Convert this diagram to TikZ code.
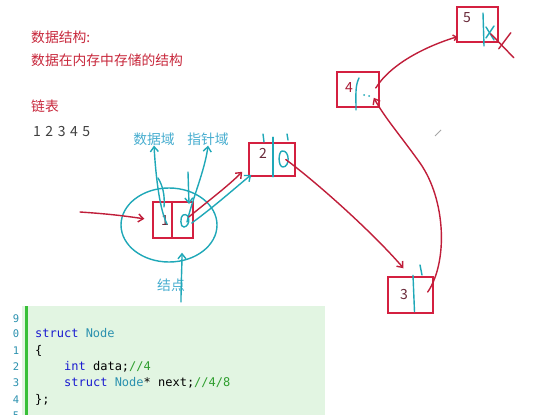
\documentclass[tikz,border=0pt]{standalone}
\usepackage{fontspec}
\setmainfont{Noto Sans CJK SC}
\newfontfamily\codefont{DejaVu Sans Mono}
\usetikzlibrary{shapes.geometric,arrows.meta,calc}
\definecolor{textred}{HTML}{C8283C}
\definecolor{penred}{HTML}{C01E3A}
\definecolor{boxred}{HTML}{D42040}
\definecolor{labelcyan}{HTML}{48AED0}
\definecolor{pencyan}{HTML}{1FA8B8}
\definecolor{codebg}{HTML}{E2F5E2}
\definecolor{codebar}{HTML}{38C038}
\definecolor{kw}{HTML}{1A1AD0}
\definecolor{ty}{HTML}{2B91AF}
\definecolor{cm}{HTML}{2E9E2E}
\definecolor{numgray}{HTML}{404040}
\definecolor{digitdark}{HTML}{6A2A3A}
\newcommand{\dg}[1]{\makebox[12.3pt][l]{#1}}
\begin{document}
\begin{tikzpicture}[x=1pt,y=-1pt,
  txt/.style={font=\fontsize{13.8}{15}\selectfont, inner sep=0pt, anchor=west},
  lbl/.style={font=\fontsize{13.8}{15}\selectfont, inner sep=0pt, text=labelcyan},
  box/.style={draw=boxred, line width=1.5pt, inner sep=0pt},
  digit/.style={font=\fontsize{14}{16}\selectfont, inner sep=0pt, text=digitdark},
  redpen/.style={draw=penred, line width=1.4pt, line cap=round},
  cyanpen/.style={draw=pencyan, line width=1.4pt, line cap=round},
  tip/.style={-{Straight Barb[length=5pt,width=8pt]}},
  code/.style={font=\codefont\fontsize{12}{14}\selectfont, inner sep=0pt, anchor=base west},
  lnum/.style={font=\codefont\fontsize{10.5}{12}\selectfont, inner sep=0pt, anchor=base, text=ty}
]
\useasboundingbox (0,0) rectangle (549,415);
\fill[white] (0,0) rectangle (549,415);

% texts
\node[txt, text=textred] (t1) at (31,37) {数据结构:};
\node[txt, text=textred] (t2) at (31,60) {数据在内存中存储的结构};
\node[txt, text=textred] (t3) at (31,106) {链表};
\node[txt, text=numgray, font=\fontsize{14}{15}\selectfont] (t4) at (33,132) {\dg{1}\dg{2}\dg{3}\dg{4}5};

% labels
\node[lbl] (ld) at (154,139) {数据域};
\node[lbl] (lp) at (208,139) {指针域};
\node[lbl] (lj) at (171,285) {结点};

% ellipse around node 1
\node[draw=pencyan, line width=1.4pt, ellipse, minimum width=96pt, minimum height=74pt, inner sep=0pt] (e) at (169,225) {};

% boxes
\node[box, minimum width=40pt, minimum height=36pt] (b1) at (173,220) {};
\node[box, minimum width=46pt, minimum height=33pt] (b2) at (272,159.5) {};
\node[box, minimum width=45pt, minimum height=36pt] (b3) at (410.5,295) {};
\node[box, minimum width=42pt, minimum height=35pt] (b4) at (358,89.5) {};
\node[box, minimum width=41pt, minimum height=35pt] (b5) at (477.5,24.5) {};

% dividers
\draw[draw=boxred, line width=1.4pt] ($(b1.north)+(-1,0)$) -- ($(b1.south)+(-1,0)$);
\draw[cyanpen] ($(b2.north)+(1,-5)$) -- ($(b2.south)+(1,0)$);
\draw[cyanpen] (263,134) -- (264,142);
\draw[cyanpen] (287,134) -- (288,140);
\draw[cyanpen] ($(b3.north)+(2.5,-1)$) -- ($(b3.south)+(4,-2)$);
\draw[cyanpen] (420,265) -- (422,275);
\draw[cyanpen] (359,78) .. controls (355,86) and (356,95) .. (356,110);
\draw[cyanpen] (483,13) -- (484,46);

% digits
\node[digit] (n1) at (165,221) {1};
\node[digit] (n2) at (263,153) {2};
\node[digit] (n3) at (404,295) {3};
\node[digit, text=boxred!80!black] (n4) at (349,88) {4};
\node[digit] (n5) at (467,18) {5};

% pointer contents
\draw[cyanpen] (183,215) .. controls (190,212) and (191,226) .. (184,227) .. controls (180,228) and (180,216) .. (183,215);
\draw[cyanpen] (282,151) .. controls (290,150) and (290,167) .. (283,167) .. controls (278,167) and (278,152) .. (282,151);
\draw[cyanpen] (486,27) -- (494,40);
\draw[cyanpen] (494,26) -- (486,38);
\fill[pencyan] (364,95) circle (1pt);
\fill[pencyan] (369,96) circle (1pt);

% incoming arrow
\coordinate (inA) at (80,212);
\draw[redpen, tip, shorten >=8pt] (inA) .. controls (110,214) and (125,216) .. (b1.west);

% label arrows
\draw[cyanpen, tip] (167,224) .. controls (160,210) and (156,180) .. (ld.south);
\draw[cyanpen] (158,178) .. controls (163,186) and (165,196) .. (164,207);
\draw[cyanpen, tip] (187,222) .. controls (192,200) and (205,170) .. (lp.south);
\draw[cyanpen, tip] (188,172) -- (189,204);
\coordinate (jt) at (181,302);
\draw[cyanpen, tip] (jt) .. controls (181,285) and (182,265) .. ($(e.south)+(13,-10)$);

% links
\draw[redpen, tip] ($(b1.east)+(-5,-3)$) .. controls (212,198) and (228,186) .. ($(b2.south west)+(-6,-5)$);
\draw[cyanpen, tip] ($(b1.east)+(-2,3)$) .. controls (215,206) and (235,188) .. ($(b2.south west)+(3,-2)$);
\draw[redpen, tip] ($(b2.east)+(-10,0)$) .. controls (320,185) and (375,235) .. ($(b3.north)+(-7,-8)$);
\draw[redpen, tip] ($(b3.east)+(-6,-3)$) .. controls (448,262) and (446,200) .. (420,163) .. controls (400,135) and (385,118) .. ($(b4.south east)+(-6,-10)$);
\draw[redpen, -{Straight Barb[length=3pt,width=6pt]}] ($(b4.east)+(-4,-1.5)$) .. controls (392,62) and (430,45) .. ($(b5.south west)+(1,-6)$);
\draw[redpen] ($(b5.south east)+(-8,-9)$) -- ($(b5.south east)+(15,15)$);
\draw[redpen] ($(b5.south east)+(0,6)$) -- ($(b5.south east)+(12,-10)$);

% cursor mark
\draw[gray!70, line width=1pt] (435,136) -- (441,130);

% code panel
\fill[codebg] (22,306) rectangle (325,415);
\fill[codebar] (24.5,306) rectangle (27.5,415);
\node[lnum] (l9) at (16,322) {9};
\node[lnum] (l0) at (16,337) {0};
\node[lnum] (l1) at (16,354) {1};
\node[lnum] (l2) at (16,370) {2};
\node[lnum] (l3) at (16,386) {3};
\node[lnum] (l4) at (16,403) {4};
\node[lnum] (l5) at (16,419) {5};
\node[code] (c0) at (35,337) {\textcolor{kw}{struct} \textcolor{ty}{Node}};
\node[code] (c1) at (35,354) {\{};
\node[code] (c2) at (64,370) {\textcolor{kw}{int} data;\textcolor{cm}{//4}};
\node[code] (c3) at (64,386) {\textcolor{kw}{struct} \textcolor{ty}{Node}* next;\textcolor{cm}{//4/8}};
\node[code] (c4) at (35,403) {\};};
\end{tikzpicture}
\end{document}
